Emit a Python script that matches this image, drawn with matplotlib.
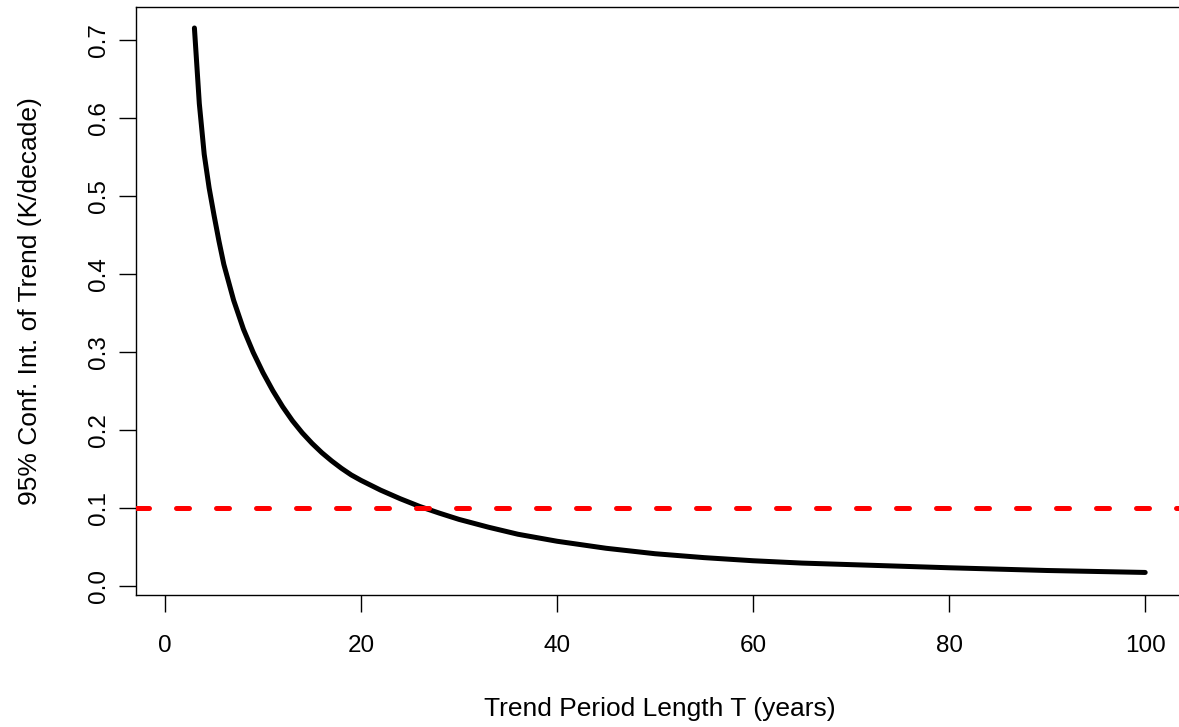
import matplotlib
matplotlib.use("Agg")
import matplotlib.pyplot as plt

# Trend period length (years) and the 95% confidence interval of the trend (K/decade)
period_years = [3, 3.5, 4, 4.5, 5, 5.5, 6, 7, 8, 9, 10, 11, 12, 13, 14, 15, 16,
                17, 18, 19, 20, 22, 24, 26, 28, 30, 33, 36, 40, 45, 50, 55, 60,
                65, 70, 80, 90, 100]
ci_trend = [0.715, 0.618, 0.553, 0.510, 0.475, 0.442, 0.412, 0.366, 0.329,
            0.299, 0.273, 0.250, 0.2295, 0.2115, 0.196, 0.1825, 0.1705, 0.160,
            0.1505, 0.142, 0.135, 0.1225, 0.1115, 0.1015, 0.093, 0.085, 0.075,
            0.066, 0.057, 0.048, 0.041, 0.036, 0.032, 0.029, 0.027, 0.023,
            0.0195, 0.017]
threshold = 0.1

x_ticks = [0, 20, 40, 60, 80, 100]
y_ticks = [0.0, 0.1, 0.2, 0.3, 0.4, 0.5, 0.6, 0.7]
x_label = "Trend Period Length T (years)"
y_label = "95% Conf. Int. of Trend (K/decade)"

plt.rcParams["font.family"] = ["Liberation Sans", "DejaVu Sans"]

W, H = 1179, 727
fig = plt.figure(figsize=(W / 100, H / 100), dpi=100)
left, right, top, bottom = 136, 1184, 6.7, 594.6
ax = fig.add_axes([left / W, 1 - bottom / H, (right - left) / W, (bottom - top) / H])

ax.plot(period_years, ci_trend, color="black", lw=3.6,
        solid_capstyle="round", solid_joinstyle="round", zorder=2)
ax.axhline(threshold, color="#ff0000", lw=3.6, dashes=(2.6, 5.4),
           dash_capstyle="round", zorder=3)

ax.set_xlim(-2.96, 103.96)
ax.set_ylim(-0.0114, 0.7423)

ax.set_xticks(x_ticks)
ax.set_xticklabels([str(v) for v in x_ticks])
ax.set_yticks(y_ticks)
ax.set_yticklabels([f"{v:.1f}" for v in y_ticks], rotation=90, va="center")

for s in ax.spines.values():
    s.set_linewidth(1.0)
    s.set_color("black")

ax.tick_params(axis="both", direction="out", length=12, width=1.0,
               labelsize=17.5, colors="black")
ax.tick_params(axis="x", pad=17)
ax.tick_params(axis="y", pad=6.5)

ax.set_xlabel(x_label, fontsize=19, labelpad=29)
ax.set_ylabel(y_label, fontsize=19, labelpad=33)

fig.savefig("out.png", dpi=100)
